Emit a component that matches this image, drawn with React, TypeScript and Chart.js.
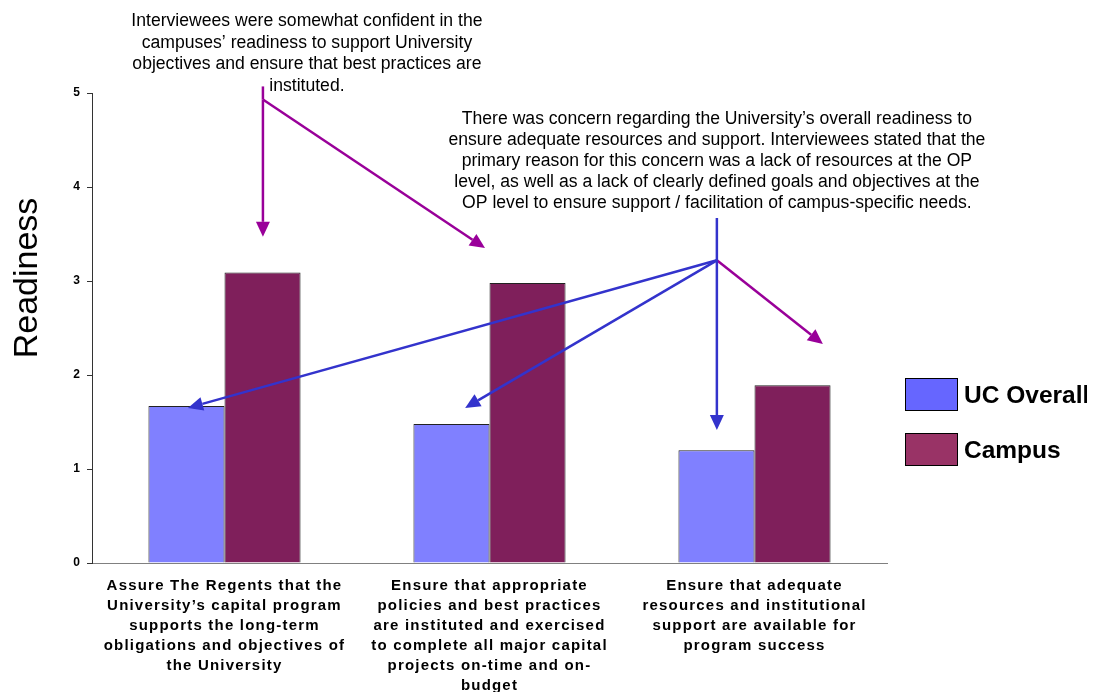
import React, { useEffect, useRef } from "react";
import { Chart, registerables } from "chart.js";

Chart.register(...registerables);

const categories: string[][] = [
  ["Assure The Regents that the", "University’s capital program", "supports the long-term", "obligations and objectives of", "the University"],
  ["Ensure that appropriate", "policies and best practices", "are instituted and exercised", "to complete all major capital", "projects on-time and on-", "budget"],
  ["Ensure that adequate", "resources and institutional", "support are available for", "program success"],
];
const seriesNames = ["UC Overall", "Campus"];
const ucOverall = [1.67, 1.48, 1.2];
const campus = [3.09, 2.98, 1.89];
const yTickValues = [0, 1, 2, 3, 4, 5];
const yTitle = "Readiness";

const noteCampus = [
  "Interviewees were somewhat confident in the",
  "campuses’ readiness to support University",
  "objectives and ensure that best practices are",
  "instituted.",
];
const noteUC = [
  "There was concern regarding the University’s overall readiness to",
  "ensure adequate resources and support. Interviewees stated that the",
  "primary reason for this concern was a lack of resources at the OP",
  "level, as well as a lack of clearly defined goals and objectives at the",
  "OP level to ensure support / facilitation of campus-specific needs.",
];

const FONT = "'Liberation Sans', Arial, sans-serif";
const BAR_COLORS = ["#8080FF", "#7F1F5B"];
const LEGEND_COLORS = ["#6666FF", "#993366"];
const PURPLE = "#990099";
const BLUE = "#3333CC";

// annotation anchors in data space (x: category index units, y: readiness units)
const annotationTexts = [
  { lines: noteCampus, x: 0.311, y: 5.766, spacing: 21.8 },
  { lines: noteUC, x: 1.858, y: 4.72, spacing: 21 },
];
const annotationLines = [
  { color: PURPLE, from: [0.145, 5.07], to: [0.145, 4.93], head: false },
  { color: PURPLE, from: [0.145, 4.93], to: [0.145, 3.47], head: true },
  { color: PURPLE, from: [0.145, 4.93], to: [0.983, 3.35], head: true },
  { color: PURPLE, from: [1.858, 3.22], to: [2.258, 2.33], head: true },
  { color: BLUE, from: [1.858, 3.67], to: [1.858, 3.22], head: false },
  { color: BLUE, from: [1.858, 3.22], to: [1.858, 1.415], head: true },
  { color: BLUE, from: [1.858, 3.22], to: [-0.138, 1.65], head: true },
  { color: BLUE, from: [1.858, 3.22], to: [0.908, 1.65], head: true },
];

const spacingPlugin = {
  id: "labelSpacing",
  beforeDraw(chart: any) {
    (chart.ctx as any).letterSpacing = "1.2px";
  },
  beforeDatasetsDraw(chart: any) {
    (chart.ctx as any).letterSpacing = "0px";
  },
};

const overlayPlugin = {
  id: "overlay",
  afterDatasetsDraw(chart: any) {
    const ctx = chart.ctx as CanvasRenderingContext2D;
    const xs = chart.scales.x;
    const ys = chart.scales.y;
    const x0 = xs.getPixelForValue(0);
    const x1 = xs.getPixelForValue(1);
    const px = (v: number) => x0 + v * (x1 - x0);
    const py = (v: number) => ys.getPixelForValue(v);

    ctx.save();
    (ctx as any).letterSpacing = "0px";
    // arrows
    for (const a of annotationLines) {
      const sx = px(a.from[0]);
      const sy = py(a.from[1]);
      const tx = px(a.to[0]);
      const ty = py(a.to[1]);
      const dx = tx - sx;
      const dy = ty - sy;
      const len = Math.hypot(dx, dy);
      const ux = dx / len;
      const uy = dy / len;
      const hl = a.head ? 15 : 0;
      const hw = 7;
      ctx.strokeStyle = a.color;
      ctx.fillStyle = a.color;
      ctx.lineWidth = 2.5;
      ctx.beginPath();
      ctx.moveTo(sx, sy);
      ctx.lineTo(tx - ux * hl, ty - uy * hl);
      ctx.stroke();
      if (a.head) {
        const bx = tx - ux * hl;
        const by = ty - uy * hl;
        ctx.beginPath();
        ctx.moveTo(tx, ty);
        ctx.lineTo(bx - uy * hw, by + ux * hw);
        ctx.lineTo(bx + uy * hw, by - ux * hw);
        ctx.closePath();
        ctx.fill();
      }
    }
    // annotation texts
    ctx.fillStyle = "#000";
    ctx.font = `17.6px ${FONT}`;
    ctx.textAlign = "center";
    ctx.textBaseline = "middle";
    for (const t of annotationTexts) {
      const cx = px(t.x);
      const cy = py(t.y);
      t.lines.forEach((line, i) => ctx.fillText(line, cx, cy + i * t.spacing));
    }
    // y title
    ctx.save();
    ctx.translate(20, chart.chartArea.top + 185);
    ctx.rotate(-Math.PI / 2);
    ctx.font = `34px ${FONT}`;
    ctx.fillText(yTitle, 0, 0);
    ctx.restore();
    // legend
    const lx = chart.chartArea.right + 18;
    const ly = chart.chartArea.top + 285;
    ctx.textAlign = "left";
    ctx.font = `bold 24.5px ${FONT}`;
    seriesNames.forEach((name, i) => {
      const y = ly + i * 55;
      ctx.fillStyle = LEGEND_COLORS[i];
      ctx.fillRect(lx, y, 53, 33);
      ctx.strokeStyle = "#000";
      ctx.lineWidth = 1;
      ctx.strokeRect(lx + 0.5, y + 0.5, 52, 32);
      ctx.fillStyle = "#000";
      ctx.fillText(name, lx + 59, y + 18);
    });
    ctx.restore();
  },
};

export default function App() {
  const ref = useRef<HTMLCanvasElement | null>(null);
  useEffect(() => {
    if (!ref.current) return;
    const chart = new Chart(ref.current, {
      type: "bar",
      data: {
        labels: categories,
        datasets: [
          { label: seriesNames[0], data: ucOverall, backgroundColor: BAR_COLORS[0], borderColor: "#222", borderWidth: 1 },
          { label: seriesNames[1], data: campus, backgroundColor: BAR_COLORS[1], borderColor: "#222", borderWidth: 1 },
        ],
      },
      options: {
        responsive: false,
        animation: false,
        layout: { padding: { top: 85, right: 200, left: 0, bottom: 0 } },
        plugins: { legend: { display: false }, tooltip: { enabled: false } },
        datasets: { bar: { categoryPercentage: 0.574, barPercentage: 1 } },
        scales: {
          x: {
            grid: { display: false },
            border: { display: true, color: "#808080", width: 1 },
            ticks: {
              color: "#000",
              font: { family: FONT, size: 15, weight: "bold", lineHeight: "20px" },
              maxRotation: 0,
              autoSkip: false,
              padding: 5,
            },
            afterFit(scale: any) {
              scale.height = 129;
            },
          },
          y: {
            min: 0,
            max: 5,
            afterBuildTicks(scale: any) {
              scale.ticks = yTickValues.map((v) => ({ value: v }));
            },
            grid: { drawOnChartArea: false, drawTicks: true, tickLength: 5, color: "#333" },
            border: { display: true, color: "#333", width: 1 },
            ticks: {
              color: "#000",
              font: { family: FONT, size: 12, weight: "bold" },
              padding: 6,
            },
            afterFit(scale: any) {
              scale.width = 84;
            },
          },
        },
      },
      plugins: [spacingPlugin, overlayPlugin],
    } as any);
    return () => chart.destroy();
  }, []);
  return (
    <div style={{ width: 1079, height: 684 }}>
      <canvas ref={ref} width={1079} height={684} style={{ display: "block" }} />
    </div>
  );
}
